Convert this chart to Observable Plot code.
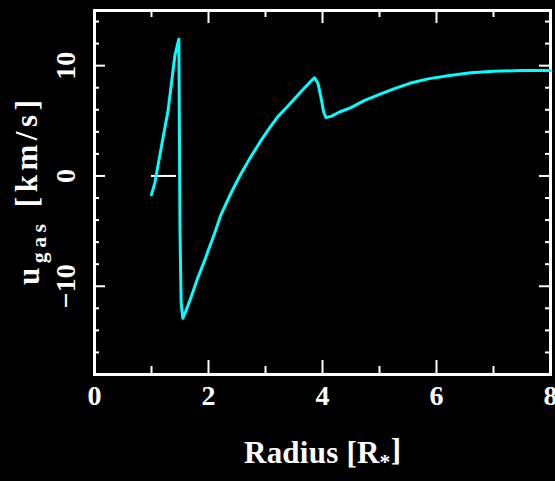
<!DOCTYPE html>
<html><head><meta charset="utf-8">
<script src="https://cdn.jsdelivr.net/npm/d3@7"></script>
<script src="https://cdn.jsdelivr.net/npm/@observablehq/plot@0.6"></script>
<style>html,body{margin:0;padding:0;background:#000;overflow:hidden}</style>
</head><body><div id="chart"></div>
<script>
// Curve: gas velocity vs radius
const radius = [1.00, 1.06, 1.20, 1.29, 1.41, 1.48, 1.49, 1.50, 1.52, 1.55, 1.60, 1.70, 1.80, 1.93, 2.00, 2.10, 2.22, 2.40, 2.57, 2.75, 2.92, 3.05, 3.22, 3.35, 3.51, 3.65, 3.78, 3.86, 3.92, 3.97, 4.02, 4.06, 4.15, 4.30, 4.50, 4.72, 5.00, 5.25, 5.53, 5.85, 6.23, 6.60, 7.00, 7.50, 8.00];
const uGas   = [-1.7, -0.6, 3.4, 5.9, 10.9, 12.4, 4.0, -5.0, -11.5, -12.9, -12.3, -10.9, -9.4, -7.7, -6.7, -5.3, -3.5, -1.5, 0.2, 1.8, 3.2, 4.2, 5.4, 6.1, 7.0, 7.8, 8.5, 8.9, 8.4, 7.2, 5.8, 5.3, 5.4, 5.8, 6.2, 6.8, 7.4, 7.9, 8.4, 8.8, 9.1, 9.35, 9.5, 9.55, 9.55];
// short white zero marker
const zeroLineX = [1.0, 1.44];
const zeroLineY = 0;

const xDomain = [0, 8];
const yDomain = [-18, 15];
const xMajorTicks = [0, 2, 4, 6, 8];
const xMinorTicks = [1, 3, 5, 7];
const yMajorTicks = [-10, 0, 10];
const yMinorTicks = [-16, -14, -12, -8, -6, -4, -2, 2, 4, 6, 8, 12, 14];
const xTickLabels = ["0", "2", "4", "6", "8"];
const yTickLabels = ["\u221210", "0", "10"];
const xLabelParts = [["Radius [R", false], ["*", true], ["]", false]];
const yLabelParts = [["u", false], ["gas", true], [" [km/s]", false]];

const FONT = "Liberation Serif";
const xLabelText = xLabelParts.map(p => p[0]).join("");
const yLabelText = yLabelParts.map(p => p[0]).join("");
const curve = radius.map((r, i) => ({r, u: uGas[i]}));

const W = 555, H = 481, ML = 94, MR = 5, MT = 10, MB = 107;
const FW = W - ML - MR, FH = H - MT - MB;

const chart = Plot.plot({
  width: W,
  height: H,
  marginLeft: ML,
  marginRight: MR,
  marginTop: MT,
  marginBottom: MB,
  style: {background: "black", color: "white"},
  x: {domain: xDomain, axis: null},
  y: {domain: yDomain, axis: null},
  marks: [
    Plot.frame({stroke: "white", strokeWidth: 3}),
    // data
    Plot.ruleY([zeroLineY], {x1: zeroLineX[0], x2: zeroLineX[1], stroke: "white", strokeWidth: 2}),
    Plot.line(curve, {x: "r", y: "u", stroke: "#00ffff", strokeWidth: 3}),
    // tick labels
    Plot.text(xMajorTicks, {x: d => d, frameAnchor: "bottom", dy: 30, textAnchor: "middle", text: (d, i) => xTickLabels[i], fill: "white", fontSize: 28, fontWeight: "bold", fontFamily: FONT}),
    Plot.text(yMajorTicks, {y: d => d, frameAnchor: "left", dx: -28, rotate: -90, textAnchor: "middle", text: (d, i) => yTickLabels[i], fill: "white", fontSize: 28, fontWeight: "bold", fontFamily: FONT}),
    // axis titles
    Plot.text([xLabelText], {frameAnchor: "bottom", dy: 88, textAnchor: "middle", fill: "white", fontSize: 31, fontWeight: "bold", fontFamily: FONT}),
    Plot.text([yLabelText], {frameAnchor: "left", dx: -65, rotate: -90, textAnchor: "middle", fill: "white", fontSize: 31, fontWeight: "bold", fontFamily: FONT}),
    // inward ticks on all four sides (drawn last)
    Plot.tickX(xMajorTicks, {x: d => d, insetTop: FH - 14, stroke: "white", strokeWidth: 2}),
    Plot.tickX(xMinorTicks, {x: d => d, insetTop: FH - 8, stroke: "white", strokeWidth: 2}),
    Plot.tickX(xMajorTicks, {x: d => d, insetBottom: FH - 13, stroke: "white", strokeWidth: 2}),
    Plot.tickX(xMinorTicks, {x: d => d, insetBottom: FH - 7, stroke: "white", strokeWidth: 2}),
    Plot.tickY(yMajorTicks, {y: d => d, insetRight: FW - 11, stroke: "white", strokeWidth: 2}),
    Plot.tickY(yMinorTicks, {y: d => d, insetRight: FW - 5, stroke: "white", strokeWidth: 2}),
    Plot.tickY(yMajorTicks, {y: d => d, insetLeft: FW - 11, stroke: "white", strokeWidth: 2}),
    Plot.tickY(yMinorTicks, {y: d => d, insetLeft: FW - 5, stroke: "white", strokeWidth: 2})
  ]
});
document.getElementById("chart").appendChild(chart);

// add subscripts to axis titles and stretch them to the reference length
function subscript(fullText, parts, len) {
  Array.from(chart.querySelectorAll("text")).filter(el => el.textContent === fullText).forEach(el => {
    const t = d3.select(el);
    t.text(null);
    let shifted = false;
    parts.forEach(([s, sub]) => {
      const ts = t.append("tspan").text(s);
      if (sub && !shifted) { ts.attr("dy", "0.3em").attr("font-size", "0.7em"); shifted = true; }
      else if (!sub && shifted) { ts.attr("dy", "-0.3em"); shifted = false; }
    });
    t.attr("textLength", len).attr("lengthAdjust", "spacing");
  });
}
subscript(xLabelText, xLabelParts, 157);
subscript(yLabelText, yLabelParts, 185);
</script>
</body></html>
